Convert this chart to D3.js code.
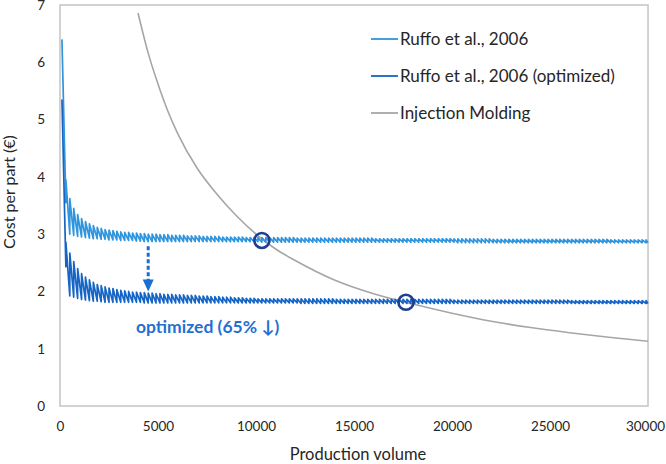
<!DOCTYPE html>
<html>
<head>
<meta charset="utf-8">
<script src="https://cdn.jsdelivr.net/npm/d3@7"></script>
<style>
  body { margin: 0; background: #fff; }
  svg { display: block; font-family: Lato, "Open Sans", sans-serif; }
</style>
</head>
<body>
<div id="chart"></div>
<script>
// axis ticks
const volumeTicks = [0, 5000, 10000, 15000, 20000, 25000, 30000];
const costTicks = [0, 1, 2, 3, 4, 5, 6, 7];

// start volume of each production lot (the sawtooth teeth), last lot ends at 30000
const lotStarts = [
  100, 300, 500, 700, 900, 1100, 1300, 1500, 1700, 1900,
  2100, 2300, 2500, 2700, 2900, 3100, 3300, 3500, 3700, 3900,
  4100, 4300, 4500, 4700, 4900, 5100, 5300, 5500, 5700, 5900,
  6100, 6300, 6500, 6700, 6900, 7100, 7300, 7500, 7700, 7900,
  8100, 8300, 8500, 8700, 8900, 9100, 9300, 9500, 9700, 9900,
  10100, 10300, 10500, 10700, 10900, 11100, 11300, 11500, 11700, 11900,
  12100, 12300, 12500, 12700, 12900, 13100, 13300, 13500, 13700, 13900,
  14100, 14300, 14500, 14700, 14900, 15100, 15300, 15500, 15700, 15900,
  16100, 16300, 16500, 16700, 16900, 17100, 17300, 17500, 17700, 17900,
  18100, 18300, 18500, 18700, 18900, 19100, 19300, 19500, 19700, 19900,
  20100, 20300, 20500, 20700, 20900, 21100, 21300, 21500, 21700, 21900,
  22100, 22300, 22500, 22700, 22900, 23100, 23300, 23500, 23700, 23900,
  24100, 24300, 24500, 24700, 24900, 25100, 25300, 25500, 25700, 25900,
  26100, 26300, 26500, 26700, 26900, 27100, 27300, 27500, 27700, 27900,
  28100, 28300, 28500, 28700, 28900, 29100, 29300, 29500, 29700, 29900
];
const lastVolume = 30000;

// Ruffo et al., 2006: cost at start of each lot (peak) and at end (trough)
const ruffoPeak = [
  6.40, 3.95, 3.62, 3.45, 3.34, 3.27, 3.22, 3.18, 3.15, 3.12,
  3.10, 3.08, 3.07, 3.06, 3.05, 3.04, 3.03, 3.03, 3.02, 3.02,
  3.01, 3.01, 3.00, 3.00, 3.00, 2.99, 2.99, 2.99, 2.98, 2.98,
  2.98, 2.98, 2.97, 2.97, 2.97, 2.97, 2.96, 2.96, 2.96, 2.96,
  2.96, 2.95, 2.95, 2.95, 2.95, 2.95, 2.95, 2.94, 2.94, 2.94,
  2.94, 2.94, 2.94, 2.94, 2.94, 2.94, 2.94, 2.94, 2.94, 2.94,
  2.93, 2.93, 2.93, 2.93, 2.93, 2.93, 2.93, 2.93, 2.93, 2.93,
  2.93, 2.93, 2.93, 2.93, 2.93, 2.93, 2.93, 2.93, 2.93, 2.93,
  2.92, 2.92, 2.92, 2.92, 2.92, 2.92, 2.92, 2.92, 2.92, 2.92,
  2.92, 2.92, 2.92, 2.92, 2.92, 2.92, 2.92, 2.92, 2.92, 2.92,
  2.92, 2.92, 2.92, 2.92, 2.92, 2.92, 2.92, 2.92, 2.92, 2.92,
  2.91, 2.91, 2.91, 2.91, 2.91, 2.91, 2.91, 2.91, 2.91, 2.91,
  2.91, 2.91, 2.91, 2.91, 2.91, 2.91, 2.91, 2.91, 2.91, 2.91,
  2.91, 2.91, 2.91, 2.91, 2.91, 2.91, 2.91, 2.91, 2.91, 2.91,
  2.90, 2.90, 2.90, 2.90, 2.90, 2.90, 2.90, 2.90, 2.90, 2.90
];
const ruffoTrough = [
  3.55, 3.00, 2.98, 2.96, 2.95, 2.94, 2.93, 2.92, 2.92, 2.91,
  2.91, 2.90, 2.90, 2.90, 2.89, 2.89, 2.89, 2.89, 2.88, 2.88,
  2.87, 2.87, 2.87, 2.87, 2.87, 2.87, 2.87, 2.87, 2.87, 2.87,
  2.87, 2.87, 2.87, 2.87, 2.87, 2.87, 2.87, 2.87, 2.87, 2.87,
  2.87, 2.87, 2.87, 2.87, 2.87, 2.87, 2.87, 2.87, 2.87, 2.87,
  2.86, 2.86, 2.86, 2.86, 2.86, 2.86, 2.86, 2.86, 2.86, 2.86,
  2.86, 2.86, 2.86, 2.86, 2.86, 2.86, 2.86, 2.86, 2.86, 2.86,
  2.86, 2.86, 2.86, 2.86, 2.86, 2.86, 2.86, 2.86, 2.86, 2.86,
  2.86, 2.86, 2.86, 2.86, 2.86, 2.86, 2.86, 2.86, 2.86, 2.86,
  2.86, 2.86, 2.86, 2.86, 2.86, 2.86, 2.86, 2.86, 2.86, 2.86,
  2.85, 2.85, 2.85, 2.85, 2.85, 2.85, 2.85, 2.85, 2.85, 2.85,
  2.85, 2.85, 2.85, 2.85, 2.85, 2.85, 2.85, 2.85, 2.85, 2.85,
  2.85, 2.85, 2.85, 2.85, 2.85, 2.85, 2.85, 2.85, 2.85, 2.85,
  2.85, 2.85, 2.85, 2.85, 2.85, 2.85, 2.85, 2.85, 2.85, 2.85,
  2.85, 2.85, 2.85, 2.85, 2.85, 2.85, 2.85, 2.85, 2.85, 2.85
];

// Ruffo et al., 2006 (optimized)
const optPeak = [
  5.35, 2.86, 2.67, 2.52, 2.40, 2.31, 2.25, 2.20, 2.16, 2.12,
  2.10, 2.08, 2.06, 2.05, 2.03, 2.02, 2.01, 2.00, 1.99, 1.99,
  1.98, 1.98, 1.97, 1.97, 1.96, 1.96, 1.95, 1.95, 1.95, 1.94,
  1.94, 1.94, 1.93, 1.93, 1.93, 1.92, 1.92, 1.92, 1.91, 1.91,
  1.91, 1.90, 1.90, 1.90, 1.89, 1.89, 1.89, 1.88, 1.88, 1.88,
  1.87, 1.87, 1.87, 1.87, 1.87, 1.87, 1.87, 1.87, 1.87, 1.87,
  1.87, 1.87, 1.87, 1.87, 1.87, 1.87, 1.87, 1.87, 1.87, 1.87,
  1.86, 1.86, 1.86, 1.86, 1.86, 1.86, 1.86, 1.86, 1.86, 1.86,
  1.86, 1.86, 1.86, 1.86, 1.86, 1.86, 1.86, 1.86, 1.86, 1.86,
  1.86, 1.86, 1.86, 1.86, 1.86, 1.86, 1.86, 1.86, 1.86, 1.86,
  1.85, 1.85, 1.85, 1.85, 1.85, 1.85, 1.85, 1.85, 1.85, 1.85,
  1.85, 1.85, 1.85, 1.85, 1.85, 1.85, 1.85, 1.85, 1.85, 1.85,
  1.85, 1.85, 1.85, 1.85, 1.85, 1.85, 1.85, 1.85, 1.85, 1.85,
  1.84, 1.84, 1.84, 1.84, 1.84, 1.84, 1.84, 1.84, 1.84, 1.84,
  1.84, 1.84, 1.84, 1.84, 1.84, 1.84, 1.84, 1.84, 1.84, 1.84
];
const optTrough = [
  2.43, 1.92, 1.90, 1.88, 1.86, 1.85, 1.84, 1.83, 1.83, 1.82,
  1.81, 1.81, 1.81, 1.81, 1.81, 1.81, 1.81, 1.81, 1.81, 1.81,
  1.80, 1.80, 1.80, 1.80, 1.80, 1.80, 1.80, 1.80, 1.80, 1.80,
  1.80, 1.80, 1.80, 1.80, 1.80, 1.80, 1.80, 1.80, 1.80, 1.80,
  1.80, 1.80, 1.80, 1.80, 1.80, 1.80, 1.80, 1.80, 1.80, 1.80,
  1.80, 1.80, 1.80, 1.80, 1.80, 1.80, 1.80, 1.80, 1.80, 1.80,
  1.79, 1.79, 1.79, 1.79, 1.79, 1.79, 1.79, 1.79, 1.79, 1.79,
  1.79, 1.79, 1.79, 1.79, 1.79, 1.79, 1.79, 1.79, 1.79, 1.79,
  1.79, 1.79, 1.79, 1.79, 1.79, 1.79, 1.79, 1.79, 1.79, 1.79,
  1.79, 1.79, 1.79, 1.79, 1.79, 1.79, 1.79, 1.79, 1.79, 1.79,
  1.79, 1.79, 1.79, 1.79, 1.79, 1.79, 1.79, 1.79, 1.79, 1.79,
  1.79, 1.79, 1.79, 1.79, 1.79, 1.79, 1.79, 1.79, 1.79, 1.79,
  1.79, 1.79, 1.79, 1.79, 1.79, 1.79, 1.79, 1.79, 1.79, 1.79,
  1.79, 1.79, 1.79, 1.79, 1.79, 1.79, 1.79, 1.79, 1.79, 1.79,
  1.79, 1.79, 1.79, 1.79, 1.79, 1.79, 1.79, 1.79, 1.79, 1.79
];

// Injection Molding
const moldingVolume = [3980, 4500, 5000, 5500, 6000, 7000, 8000, 9000, 10000, 11000,
  12000, 14000, 16000, 18000, 20000, 22000, 24000, 26000, 28000, 30000];
const moldingCost = [6.86, 6.16, 5.62, 5.15, 4.76, 4.15, 3.70, 3.32, 3.00, 2.74,
  2.54, 2.20, 1.96, 1.78, 1.62, 1.48, 1.37, 1.28, 1.20, 1.13];

// break-even points and the optimisation arrow
const breakEvenVolume = [10300, 17650];
const breakEvenCost = [2.89, 1.81];
const arrowVolume = 4500;
const arrowFromCost = 2.79;
const arrowToCost = 2.0;
const noteVolume = 7530;
const noteCost = 1.28;

const seriesNames = ['Ruffo et al., 2006', 'Ruffo et al., 2006 (optimized)', 'Injection Molding'];
const seriesColors = ['#2f95de', '#1565c6', '#a6a6a6'];

const dims = { width: 666, height: 464 };
const margin = { left: 60, right: 18, top: 5, bottom: 58 };
const innerW = dims.width - margin.left - margin.right;
const innerH = dims.height - margin.top - margin.bottom;

const xScale = d3.scaleLinear().domain([0, 30000]).range([0, innerW]);
const yScale = d3.scaleLinear().domain([0, 7]).range([innerH, 0]);

const svg = d3.select('#chart').append('svg')
  .attr('width', dims.width)
  .attr('height', dims.height);

const g = svg.append('g')
  .attr('transform', `translate(${margin.left},${margin.top})`);

// plot frame
g.append('rect')
  .attr('width', innerW)
  .attr('height', innerH)
  .attr('fill', 'none')
  .attr('stroke', '#c4c4c4')
  .attr('stroke-width', 1.5);

// axes
const xAxis = g.append('g')
  .attr('transform', `translate(0,${innerH})`)
  .call(d3.axisBottom(xScale).tickValues(volumeTicks).tickSize(0).tickPadding(15).tickFormat(d3.format('d')));
const yAxis = g.append('g')
  .call(d3.axisLeft(yScale).tickValues(costTicks).tickSize(0).tickPadding(15).tickFormat(d3.format('d')));
[xAxis, yAxis].forEach(a => {
  a.select('.domain').remove();
  a.selectAll('text')
    .attr('font-family', 'Lato, sans-serif')
    .attr('font-size', 13.5)
    .attr('fill', '#262626');
});
// keep the last volume label inside the picture
xAxis.selectAll('.tick text').filter(d => d === 30000).attr('dx', -3);

// turn lot peaks/troughs into sawtooth points
function sawtooth(peaks, troughs) {
  const pts = [];
  lotStarts.forEach((v, i) => {
    const end = i + 1 < lotStarts.length ? lotStarts[i + 1] : lastVolume;
    pts.push([v, peaks[i]]);
    pts.push([end, troughs[i]]);
  });
  return pts;
}

const line = d3.line()
  .x(d => xScale(d[0]))
  .y(d => yScale(d[1]));

g.append('path')
  .datum(moldingVolume.map((v, i) => [v, moldingCost[i]]))
  .attr('fill', 'none')
  .attr('stroke', seriesColors[2])
  .attr('stroke-width', 1.6)
  .attr('d', line.curve(d3.curveMonotoneX));

line.curve(d3.curveLinear);

g.append('path')
  .datum(sawtooth(ruffoPeak, ruffoTrough))
  .attr('fill', 'none')
  .attr('stroke', seriesColors[0])
  .attr('stroke-width', 1.7)
  .attr('stroke-linejoin', 'round')
  .attr('d', line);

g.append('path')
  .datum(sawtooth(optPeak, optTrough))
  .attr('fill', 'none')
  .attr('stroke', seriesColors[1])
  .attr('stroke-width', 1.7)
  .attr('stroke-linejoin', 'round')
  .attr('d', line);

// break-even circles
g.selectAll('circle.cross')
  .data(breakEvenVolume)
  .join('circle')
  .attr('class', 'cross')
  .attr('cx', d => xScale(d))
  .attr('cy', (d, i) => yScale(breakEvenCost[i]))
  .attr('r', 7.5)
  .attr('fill', 'none')
  .attr('stroke', '#1f3f8f')
  .attr('stroke-width', 2.6);

// dotted arrow
const ax = xScale(arrowVolume);
const tipY = yScale(arrowToCost);
g.append('line')
  .attr('x1', ax).attr('x2', ax)
  .attr('y1', yScale(arrowFromCost))
  .attr('y2', tipY - 11)
  .attr('stroke', '#1c6dd0')
  .attr('stroke-width', 3)
  .attr('stroke-dasharray', '4,2.5');
g.append('path')
  .attr('d', `M${ax - 5.5},${tipY - 12}L${ax + 5.5},${tipY - 12}L${ax},${tipY}Z`)
  .attr('fill', '#1c6dd0');

g.append('text')
  .attr('x', xScale(noteVolume))
  .attr('y', yScale(noteCost))
  .attr('text-anchor', 'middle')
  .attr('font-size', 17.5)
  .attr('font-weight', 'bold')
  .attr('fill', '#1f70d0')
  .text('optimized (65% \u2193)');

// axis titles
svg.append('text')
  .attr('x', 358)
  .attr('y', 460)
  .attr('text-anchor', 'middle')
  .attr('font-size', 16.5)
  .attr('fill', '#262626')
  .text('Production volume');
svg.append('text')
  .attr('transform', 'translate(15,192) rotate(-90)')
  .attr('text-anchor', 'middle')
  .attr('font-size', 16)
  .attr('fill', '#262626')
  .text('Cost per part (\u20ac)');

// legend
const legend = svg.append('g').attr('transform', 'translate(371,39)');
const keyItem = legend.selectAll('g')
  .data(seriesNames)
  .join('g')
  .attr('transform', (_, i) => `translate(0,${i * 37})`);
keyItem.append('line')
  .attr('x1', 0).attr('x2', 27)
  .attr('stroke', (_, i) => seriesColors[i])
  .attr('stroke-width', 1.8);
keyItem.append('text')
  .attr('x', 29)
  .attr('y', 6)
  .attr('font-size', 17)
  .attr('fill', '#262626')
  .text(d => d);
</script>
</body>
</html>
